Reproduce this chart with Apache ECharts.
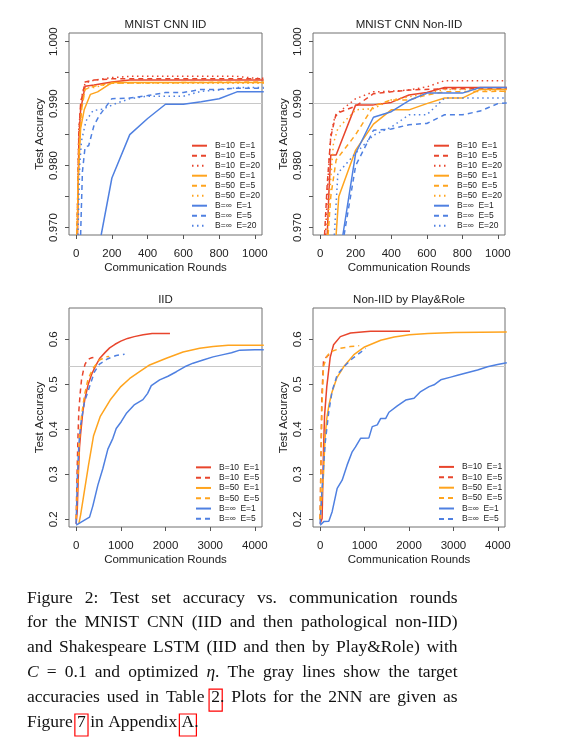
<!DOCTYPE html>
<html>
<head>
<meta charset="utf-8">
<script src="https://cdn.jsdelivr.net/npm/echarts@6/dist/echarts.min.js"></script>
<style>
html,body{margin:0;padding:0;background:#fff;}
#chart{width:586px;height:751px;}
</style>
</head>
<body>
<div id="chart"></div>
<script>
// ---------- DATA ----------
const panelTitles = ['MNIST CNN IID', 'MNIST CNN Non-IID', 'IID', 'Non-IID by Play&Role'];
const seriesNames9 = ['B=10  E=1','B=10  E=5','B=10  E=20','B=50  E=1','B=50  E=5','B=50  E=20','B=\u221e  E=1','B=\u221e  E=5','B=\u221e  E=20'];
const seriesNames6 = ['B=10  E=1','B=10  E=5','B=50  E=1','B=50  E=5','B=\u221e  E=1','B=\u221e  E=5'];
const cnnTicksX = [0,200,400,600,800,1000];
const lstmTicksX = [0,1000,2000,3000,4000];
const cnnTicksY = [0.970,0.975,0.980,0.985,0.990,0.995,1.000];
const cnnLabelsY = [0.970,0.980,0.990,1.000];
const lstmTicksY = [0.2,0.3,0.4,0.5,0.6];
const cnnTarget = 0.99;
const lstmTarget = 0.54;

// MNIST CNN IID  [round, accuracy]
const cnnIid_B10E1  = [[8,0.9688],[15,0.984],[25,0.989],[50,0.9928],[100,0.9930],[200,0.9935],[300,0.9938],[600,0.9938],[1000,0.9938],[1050,0.9938]];
const cnnIid_B10E5  = [[5,0.9688],[15,0.985],[25,0.990],[50,0.9935],[100,0.9938],[200,0.9940],[300,0.9940],[1000,0.9940],[1050,0.9940]];
const cnnIid_B10E20 = [[5,0.9688],[15,0.986],[30,0.991],[50,0.9933],[100,0.9938],[200,0.9942],[300,0.9944],[900,0.9944],[1000,0.9941],[1050,0.9941]];
const cnnIid_B50E1  = [[5,0.9688],[12,0.978],[25,0.986],[45,0.989],[80,0.9915],[120,0.9919],[200,0.9934],[300,0.9934],[1050,0.9934]];
const cnnIid_B50E5  = [[5,0.9688],[15,0.982],[30,0.989],[50,0.9923],[100,0.9928],[200,0.9933],[1050,0.9935]];
const cnnIid_B50E20 = [[5,0.9688],[15,0.983],[30,0.989],[50,0.9925],[100,0.9926],[200,0.9933],[1050,0.9933]];
const cnnIid_BinfE1 = [[140,0.9688],[200,0.978],[300,0.985],[400,0.9876],[500,0.9899],[600,0.9899],[700,0.9903],[800,0.9908],[900,0.9919],[1050,0.9919]];
const cnnIid_BinfE5 = [[25,0.9688],[35,0.979],[50,0.983],[70,0.9832],[100,0.9865],[130,0.9881],[200,0.9908],[300,0.9909],[400,0.9913],[500,0.9918],[600,0.9918],[700,0.9923],[800,0.9923],[900,0.9925],[1050,0.9925]];
const cnnIid_BinfE20= [[10,0.9688],[20,0.980],[30,0.984],[55,0.9872],[95,0.9889],[150,0.9891],[210,0.9899],[300,0.9908],[400,0.9912],[600,0.9912],[700,0.9920],[800,0.9922],[900,0.9926],[1050,0.9926]];

// MNIST CNN Non-IID
const cnnNon_B10E1  = [[40,0.9688],[50,0.976],[60,0.9817],[90,0.9817],[200,0.9898],[300,0.9898],[400,0.9902],[500,0.9914],[600,0.9918],[700,0.9926],[1050,0.9926]];
const cnnNon_B10E5  = [[25,0.9688],[40,0.977],[60,0.9846],[90,0.9884],[200,0.9896],[300,0.9916],[400,0.9919],[500,0.9922],[700,0.9924],[1050,0.9924]];
const cnnNon_B10E20 = [[30,0.9688],[45,0.978],[60,0.985],[80,0.9875],[100,0.9885],[200,0.9908],[300,0.9919],[400,0.9920],[500,0.9922],[600,0.9927],[700,0.9937],[1050,0.9937]];
const cnnNon_B50E1  = [[90,0.9688],[105,0.975],[200,0.9825],[300,0.9867],[400,0.9890],[500,0.9890],[600,0.9900],[700,0.9909],[800,0.9909],[900,0.9923],[1050,0.9923]];
const cnnNon_B50E5  = [[45,0.9688],[60,0.975],[90,0.9809],[200,0.9850],[300,0.9896],[400,0.9906],[500,0.9906],[600,0.9914],[700,0.9919],[1050,0.9920]];
const cnnNon_B50E20 = [[40,0.9688],[60,0.978],[75,0.9836],[100,0.9860],[200,0.9890],[300,0.9892],[400,0.9906],[500,0.9911],[600,0.9916],[700,0.9923],[900,0.9923],[1050,0.9919]];
const cnnNon_BinfE1 = [[128,0.9688],[200,0.9820],[300,0.9878],[400,0.9887],[500,0.9905],[600,0.9917],[800,0.9917],[900,0.9926],[1050,0.9926]];
const cnnNon_BinfE5 = [[135,0.9688],[200,0.9800],[300,0.9857],[400,0.9859],[500,0.9866],[600,0.9868],[700,0.9882],[800,0.9882],[900,0.9888],[1000,0.9900],[1050,0.9901]];
const cnnNon_BinfE20= [[80,0.9688],[100,0.9788],[200,0.9820],[300,0.9849],[400,0.9862],[500,0.9882],[600,0.9882],[700,0.9909],[1050,0.9909]];

// Shakespeare LSTM IID
const lstmIid_B10E1  = [[0,0.19],[25,0.22],[50,0.30],[75,0.36],[100,0.39],[150,0.44],[200,0.47],[270,0.50],[350,0.523],[430,0.54],[530,0.558],[650,0.571],[750,0.581],[870,0.589],[1000,0.596],[1150,0.602],[1300,0.606],[1500,0.610],[1700,0.613],[2100,0.613]];
const lstmIid_B10E5  = [[0,0.20],[20,0.30],[40,0.38],[60,0.44],[90,0.48],[120,0.51],[160,0.53],[200,0.545],[250,0.553],[300,0.557],[350,0.559],[400,0.560]];
const lstmIid_B50E1  = [[60,0.19],[100,0.21],[164,0.25],[276,0.32],[388,0.385],[537,0.428],[761,0.465],[1000,0.495],[1200,0.513],[1420,0.528],[1645,0.543],[2019,0.558],[2393,0.572],[2766,0.580],[3065,0.584],[3402,0.587],[4200,0.587]];
const lstmIid_B50E5  = [[0,0.20],[30,0.27],[75,0.38],[120,0.43],[187,0.476],[262,0.51],[374,0.535],[523,0.554],[673,0.561],[740,0.562]];
const lstmIid_BinfE1 = [[0,0.187],[112,0.194],[300,0.205],[374,0.23],[486,0.276],[598,0.313],[710,0.356],[822,0.38],[897,0.402],[1009,0.417],[1121,0.435],[1308,0.455],[1495,0.466],[1600,0.48],[1682,0.497],[1869,0.51],[2056,0.518],[2243,0.528],[2430,0.539],[2617,0.547],[2841,0.554],[3065,0.561],[3290,0.566],[3477,0.570],[3664,0.576],[4000,0.577],[4200,0.577]];
const lstmIid_BinfE5 = [[0,0.19],[30,0.30],[60,0.365],[100,0.41],[187,0.461],[300,0.495],[411,0.528],[523,0.545],[710,0.557],[897,0.564],[1084,0.567]];

// Shakespeare LSTM Non-IID by Play&Role
const lstmNon_B10E1  = [[0,0.19],[45,0.202],[75,0.35],[100,0.43],[150,0.495],[227,0.56],[303,0.588],[455,0.606],[684,0.614],[1000,0.617],[1136,0.618],[2023,0.618]];
const lstmNon_B10E5  = [[0,0.20],[15,0.30],[38,0.47],[76,0.55],[114,0.558],[190,0.565],[210,0.566]];
const lstmNon_B50E1  = [[0,0.20],[45,0.20],[76,0.30],[110,0.38],[152,0.425],[200,0.455],[265,0.482],[379,0.515],[530,0.539],[760,0.566],[1000,0.583],[1364,0.598],[1667,0.605],[2008,0.610],[2424,0.613],[3030,0.615],[4200,0.616]];
const lstmNon_B50E5  = [[0,0.20],[15,0.30],[40,0.45],[76,0.54],[152,0.562],[227,0.572],[455,0.580],[682,0.584],[880,0.586]];
const lstmNon_BinfE1 = [[0,0.187],[83,0.195],[196,0.196],[271,0.217],[384,0.269],[496,0.287],[609,0.321],[722,0.35],[797,0.361],[910,0.38],[1098,0.381],[1173,0.406],[1286,0.41],[1361,0.424],[1474,0.424],[1549,0.438],[1737,0.452],[1925,0.465],[2113,0.469],[2263,0.484],[2452,0.495],[2564,0.499],[2715,0.51],[2940,0.516],[3091,0.52],[3241,0.524],[3542,0.532],[3767,0.539],[3993,0.544],[4200,0.548]];
const lstmNon_BinfE5 = [[0,0.19],[45,0.27],[114,0.37],[196,0.44],[271,0.485],[384,0.521],[534,0.539],[722,0.557],[910,0.571],[1023,0.58]];

// Caption: lines of [text, style]  ('' normal, 'i' italic, 'box' boxed reference)
const captionLines = [
  [['Figure 2: Test set accuracy vs.  communication rounds','']],
  [['for the MNIST CNN (IID and then pathological non-IID)','']],
  [['and Shakespeare LSTM (IID and then by Play&Role) with','']],
  [['C','i'],[' = 0.1 and optimized ',''],['\u03b7','i'],['. The gray lines show the target','']],
  [['accuracies used in Table ',''],['2','box'],['. Plots for the 2NN are given as','']],
  [['Figure ',''],['7','box'],[' in Appendix ',''],['A','box'],['.','']]
];

// ---------- STYLE ----------
const SANS = '"Liberation Sans", Arial, sans-serif';
const SERIF = '"Liberation Serif", "Times New Roman", serif';
const RED = '#E8452C', ORANGE = '#FFA41E', BLUE = '#4F80E1';
const SOLID = 'solid', DASHED = [5,4], DOTTED = [1.5,3.5];
const styleOf = {
  'B=10  E=1':[RED,SOLID], 'B=10  E=5':[RED,DASHED], 'B=10  E=20':[RED,DOTTED],
  'B=50  E=1':[ORANGE,SOLID], 'B=50  E=5':[ORANGE,DASHED], 'B=50  E=20':[ORANGE,DOTTED],
  'B=\u221e  E=1':[BLUE,SOLID], 'B=\u221e  E=5':[BLUE,DASHED], 'B=\u221e  E=20':[BLUE,DOTTED]
};

const panelData = [
  [cnnIid_B10E1,cnnIid_B10E5,cnnIid_B10E20,cnnIid_B50E1,cnnIid_B50E5,cnnIid_B50E20,cnnIid_BinfE1,cnnIid_BinfE5,cnnIid_BinfE20],
  [cnnNon_B10E1,cnnNon_B10E5,cnnNon_B10E20,cnnNon_B50E1,cnnNon_B50E5,cnnNon_B50E20,cnnNon_BinfE1,cnnNon_BinfE5,cnnNon_BinfE20],
  [lstmIid_B10E1,lstmIid_B10E5,lstmIid_B50E1,lstmIid_B50E5,lstmIid_BinfE1,lstmIid_BinfE5],
  [lstmNon_B10E1,lstmNon_B10E5,lstmNon_B50E1,lstmNon_B50E5,lstmNon_BinfE1,lstmNon_BinfE5]
];
const panelNames = [seriesNames9, seriesNames9, seriesNames6, seriesNames6];
const panelTargets = [cnnTarget, cnnTarget, lstmTarget, lstmTarget];

const grids = [
  {left:69, top:33, width:193, height:202},
  {left:313, top:33, width:192, height:202},
  {left:69, top:308, width:193, height:219},
  {left:313, top:308, width:192, height:219}
];
const titlePos = [[165.5,18.5],[409,18.5],[165.5,293.5],[409,293.5]];
const legendPos = [[191,140.7,10],[433,140.7,10],[195,462.2,10.3],[438,461.7,10.4]];

const TXT = '#222';
const xAxes = [], yAxes = [], series = [], legends = [], titles = [];
for (let p = 0; p < 4; p++) {
  const cnn = p < 2;
  xAxes.push({
    gridIndex:p, type:'value',
    min: cnn ? -40 : -160, max: cnn ? 1040 : 4160,
    name:'Communication Rounds', nameLocation:'middle', nameGap:27,
    nameTextStyle:{fontSize:11.5, color:TXT, fontFamily:SANS},
    axisLine:{show:false, onZero:false}, splitLine:{show:false},
    axisTick:{show:true, inside:false, length:4, lineStyle:{color:'#555'}, customValues: cnn ? cnnTicksX : lstmTicksX},
    axisLabel:{fontSize:11.5, color:TXT, fontFamily:SANS, margin:13, customValues: cnn ? cnnTicksX : lstmTicksX,
      formatter: v => String(Math.round(v))}
  });
  yAxes.push({
    gridIndex:p, type:'value',
    min: cnn ? 0.9688 : 0.183, max: cnn ? 1.0014 : 0.6696,
    name:'Test Accuracy', nameLocation:'middle', nameGap:23,
    nameTextStyle:{fontSize:11.5, color:TXT, fontFamily:SANS},
    axisLine:{show:false, onZero:false}, splitLine:{show:false},
    axisTick:{show:true, inside:false, length:4, lineStyle:{color:'#555'}, customValues: cnn ? cnnTicksY : lstmTicksY},
    axisLabel:{fontSize:11.5, color:TXT, fontFamily:SANS, rotate:90, margin:9.5,
      customValues: cnn ? cnnLabelsY : lstmTicksY,
      formatter: v => cnn ? Number(v).toFixed(3) : Number(v).toFixed(1)}
  });
  titles.push({text:panelTitles[p], left:titlePos[p][0], top:titlePos[p][1], textAlign:'center', padding:0,
    textStyle:{fontSize:11.5, fontWeight:'normal', color:TXT, fontFamily:SANS}});
  const names = panelNames[p];
  names.forEach((nm, i) => {
    const [col, dash] = styleOf[nm];
    const s = {
      type:'line', name:nm, data:panelData[p][i], xAxisIndex:p, yAxisIndex:p,
      symbol:'none', showSymbol:false, clip:true, silent:true, animation:false,
      lineStyle:{color:col, width:1.5, type:dash, cap:'butt'}, itemStyle:{color:col},
      emphasis:{disabled:true}, z:3
    };
    if (i === 0) {
      s.markLine = {silent:true, symbol:'none', animation:false, label:{show:false},
        lineStyle:{color:'#c8c8c8', type:'solid', width:1}, emphasis:{disabled:true},
        data:[{yAxis:panelTargets[p]}], z:1};
    }
    series.push(s);
  });
  legends.push({
    orient:'vertical', left:legendPos[p][0], top:legendPos[p][1], padding:0,
    itemWidth:15, itemHeight:6, itemGap:0, selectedMode:false, data:names.slice(),
    itemStyle:{opacity:0},
    textStyle:{fontSize:8.5, color:TXT, fontFamily:SANS, lineHeight:legendPos[p][2], padding:[0,0,0,3]}
  });
}

// ---------- CAPTION (justified, word by word) ----------
const FS = 17.5, CAP_X = 27, CAP_W = 430.5;
const baselines = [604, 628.8, 653.6, 678.4, 703.2, 728];
const mctx = document.createElement('canvas').getContext('2d');
function fontStr(st){ return (st === 'i' ? 'italic ' : '') + FS + 'px ' + SERIF; }
function measure(t, st){ mctx.font = fontStr(st); return mctx.measureText(t).width; }
function toWords(segs){
  const words = []; let cur = [];
  segs.forEach(([t, st]) => {
    t.split(' ').forEach((part, k) => {
      if (k > 0) { if (cur.length) words.push(cur); cur = []; }
      if (part) cur.push([part, st]);
    });
  });
  if (cur.length) words.push(cur);
  return words;
}
const graphics = [];
captionLines.forEach((segs, li) => {
  const words = toWords(segs);
  const widths = words.map(w => w.reduce((a, [t, st]) => a + measure(t, st), 0));
  const total = widths.reduce((a, b) => a + b, 0);
  const last = li === captionLines.length - 1;
  const gap = last ? measure(' ', '') : (CAP_W - total) / (words.length - 1);
  let x = CAP_X;
  const yMid = baselines[li] - 0.3375 * FS;
  words.forEach((w) => {
    w.forEach(([t, st]) => {
      const tw = measure(t, st);
      graphics.push({type:'text', x:x, y:yMid, silent:true,
        style:{text:t, fontSize:FS, fontFamily:SERIF, fontStyle: st === 'i' ? 'italic' : 'normal',
          fill:'#111', align:'left', verticalAlign:'middle'}});
      if (st === 'box') {
        graphics.push({type:'rect', silent:true,
          shape:{x:x - 2.2, y:baselines[li] - 14, width:tw + 4.4, height:22},
          style:{fill:'none', stroke:'#ff0000', lineWidth:1.2}});
      }
      x += tw;
    });
    x += gap;
  });
});

const chart = echarts.init(document.getElementById('chart'), null, {renderer:'canvas'});
chart.setOption({
  backgroundColor:'#ffffff',
  animation:false,
  textStyle:{fontFamily:SANS},
  title:titles,
  legend:legends,
  grid:grids.map(g => Object.assign({show:true, borderColor:'#707070', borderWidth:1, containLabel:false, backgroundColor:'transparent'}, g)),
  xAxis:xAxes,
  yAxis:yAxes,
  series:series,
  graphic:graphics
});
</script>
</body>
</html>
